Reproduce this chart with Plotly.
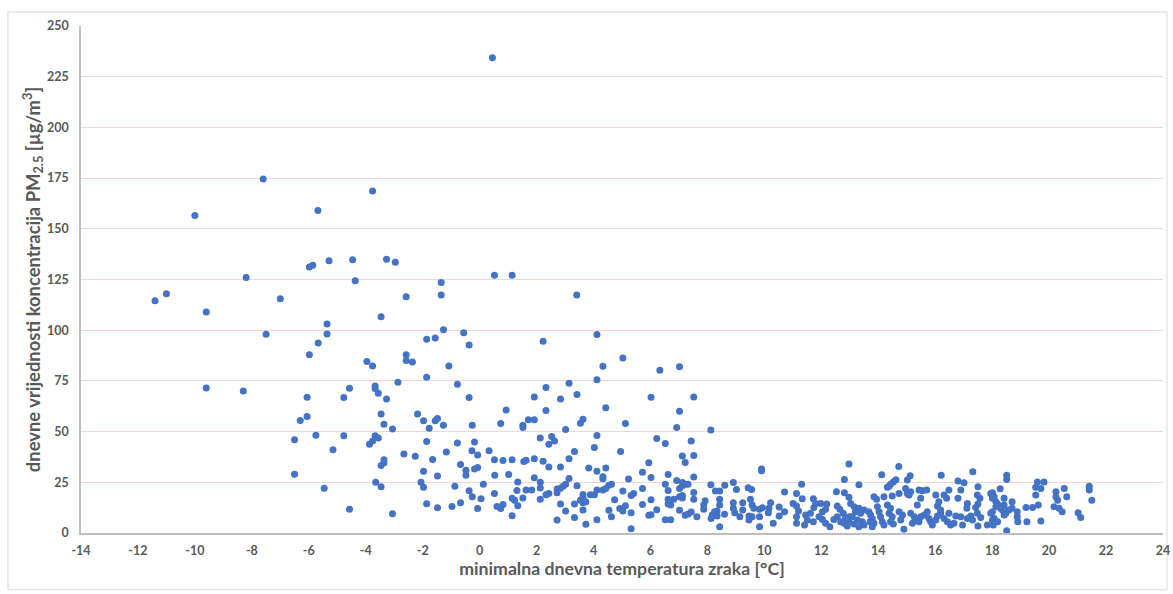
import plotly.graph_objects as go

# (minimum daily air temperature [°C], daily PM2.5 [µg/m3]), grouped by temperature band
grp_a = [(-11.4,114.5),(-11.0,118),(-10.0,156.5),(-9.6,109),(-9.6,71.5),(-8.2,126),(-8.3,70),(-7.6,174.5),(-7.5,98),(-7.0,115.5),
         (-6.5,46),(-6.5,29),(-6.3,55.5),(-6.06,57.4),(-6.06,66.9),(-5.75,48.2),(-5.46,22.1),(-5.68,159),(-5.98,131.2),(-5.86,132.0),
         (-5.29,134.2),(-5.36,103),(-5.36,98.1),(-5.67,93.7),(-5.98,87.9),(-5.15,41)]

grp_b = [(-3.76,168.6),(-4.46,134.7),(-3.27,135),(-2.96,133.5),(-4.37,124.4),(0.52,127.1),(1.14,127.1),(-1.35,123.5),(-1.35,117.3),
         (-2.58,116.5),(-3.46,106.6),(-1.27,100.2),(-0.56,98.8),(-1.86,95.5),(-1.56,96.1),(-0.37,92.7),(-3.96,84.6),(-3.76,82.3),
         (-2.58,87.9),(-2.58,85.0),(-2.36,84.3),(-1.08,82.3),(-1.86,76.8),(-2.87,74.3),(-0.78,73.3),(-3.67,72.5),(-3.67,71.2),
         (-3.56,68.9),(-4.57,71.4),(-4.77,66.8),(-3.27,66.1),(-0.37,66.8),(0.93,60.7),(0.74,54.0),(-3.46,58.7),(-2.18,58.7),
         (-1.97,55.3),(-1.56,55.3),(-1.48,56.4),(-3.36,53.6),(-3.06,51.3),(-1.77,51.7),(-1.27,53.1),(-0.26,53.1),(-4.77,47.9),
         (-3.67,47.9),(-3.56,46.8),(-3.76,45.4),(-3.87,43.8),(-1.86,45.1),(-0.78,44.4),(-0.18,44.9),(-2.66,38.9),(-2.26,37.9),
         (-1.17,39.9),(-0.27,40.5),(-0.07,38.5),(0.33,40.5),(-1.65,36.3),(-3.36,36.1),(-3.36,34.6),(-3.46,33.3),(-0.67,33.8),
         (-0.48,30.9),(-0.48,28.5),(-0.18,31.6),(-0.07,32.3),(0.52,36.1),(0.82,35.8),(1.14,36.1),(-1.97,30.4),(-1.48,28.1),
         (0.53,28.5),(1.02,28.9),(-3.65,25),(-3.46,22.8),(-2.06,25),(-1.97,22.6),(-0.87,23),(0.13,24),(1.34,25.1),(-0.37,20.8),
         (-0.26,17.9),(0.05,16.9),(0.52,19.5),(1.31,21.0),(-1.86,14.4),(-1.48,12.5),(-0.97,13.1),(-0.67,14.9),(-0.07,12.1),
         (0.61,13.1),(0.74,12.1),(0.82,14.1),(1.14,17.1),(1.23,16.2),(1.34,13.4),(1.14,8.5),(-4.57,11.7),(-3.06,9.5),(0.45,234.3)]

grp_c = [(3.41,117.3),(4.12,97.9),(2.23,94.6),(5.03,86.3),(4.33,82.2),(6.33,80.2),(7.02,82.0),(4.12,75.6),(3.14,73.8),(2.33,71.7),
         (3.42,68.3),(1.92,67.1),(6.02,66.9),(7.52,67.1),(2.84,66.1),(2.33,60.4),(4.43,61.7),(7.02,60.0),(1.52,53.1),(1.52,52.0),
         (1.71,55.9),(1.92,55.9),(3.54,54.1),(3.63,56.1),(3.02,51.0),(5.12,54.0),(6.92,52.0),(2.13,46.9),(2.53,47.6),(2.63,45.4),
         (2.43,43.8),(4.12,48.1),(4.03,42.2),(6.22,46.6),(6.52,44.1),(7.43,45.4),(1.55,35.3),(1.63,35.9),(1.92,36.6),(2.23,35.4),
         (2.43,32.6),(2.84,32.6),(3.14,36.6),(3.33,40.2),(4.95,40.2),(3.83,32.1),(4.12,30.4),(4.43,32.1),(4.33,27.7),(4.33,26.7),
         (5.94,34.6),(5.72,30.0),(6.02,27.4),(6.52,24.1),(6.62,28.9),(7.12,38.0),(7.22,34.8),(7.52,38.2),(7.52,27.6),(1.92,27.2),
         (2.13,25.0),(2.13,22.2),(1.63,21.2),(1.83,21.2),(2.43,19.5),(2.33,18.9),(2.13,16.7),(2.72,19.8),(2.72,21.7),(2.84,22.1),
         (2.93,23.1),(3.02,24.1),(3.14,26.9),(3.42,23.3),(3.33,14.3),(3.63,19.0),(3.63,17.6),(3.54,16.2),(3.63,14.9),(3.73,15.4),
         (3.89,18.9),(4.03,18.9),(4.12,21.2),(4.33,21.2),(4.43,22.0),(4.54,23.5),(4.63,24.1),(3.02,10.8),(2.84,14.3),(2.72,6.4),
         (3.33,7.7),(3.63,11.3),(3.73,4.3),(4.12,6.5),(4.54,11.2),(4.74,16.4),(4.63,8.0),(5.03,20.7),(5.23,26.6),(4.92,12.1),
         (5.03,10.8),(5.12,13.4),(5.32,18.5),(5.41,19.5),(5.32,10.0),(5.32,2.1),(5.72,22.0),(5.72,14.1),(6.02,16.4),(5.94,8.7),
         (6.02,9.0),(6.22,11.5),(6.62,21.0),(6.62,16.6),(6.62,14.3),(6.71,13.8),(6.82,16.6),(6.52,6.5),(6.71,6.5),(6.92,25.9),
         (7.02,22.0),(7.12,23.3),(7.12,24.9),(7.22,24.1),(7.02,17.9),(7.12,18.5),(7.12,17.2),(7.32,24.1),(7.52,20.0),(7.52,16.6),
         (7.02,11.2),(7.22,8.7),(7.32,9.4),(7.43,10.3),(7.63,8.0),(1.52,17.2)]

grp_d = [(8.12,50.8),(9.90,31.6),(9.90,30.7),(8.12,23.8),(8.61,23.5),(8.91,24.9),(9.02,21.5),(9.43,22.3),(9.55,21.5),(8.28,20.7),
         (8.43,20.7),(7.92,15.9),(7.87,13.8),(7.87,11.7),(8.43,16.7),(8.43,13.8),(8.34,10.8),(8.25,10.5),(8.34,8.4),(8.17,8.9),
         (8.13,7.2),(8.60,9.2),(8.43,3.1),(8.91,14.9),(8.91,12.2),(8.96,10.0),(9.24,14.9),(9.24,11.3),(9.14,8.0),(9.51,16.6),
         (9.57,13.8),(9.63,12.2),(9.46,8.4),(9.46,6.4),(9.57,8.0),(9.83,11.7),(9.93,12.5),(9.83,8.0),(9.83,3.1),(10.22,14.9),
         (10.16,12.2),(10.14,10.0),(10.31,4.8),(10.71,20.2),(10.52,12.8),(10.71,10.5),(10.52,8.4),(11.31,24.1),(11.13,19.5),
         (11.33,16.9),(11.01,14.6),(11.13,13.3),(11.20,10.8),(11.13,8.0),(11.13,4.8),(11.45,8.9),(11.51,6.4),(11.41,3.9),
         (11.72,16.9),(11.80,14.6),(11.74,12.6),(11.62,9.7),(11.72,5.6),(11.98,14.6),(12.19,14.3),(12.04,10.5),(12.15,11.7),
         (12.04,6.7),(12.15,4.8),(11.92,8.0),(12.53,20.3),(12.81,26.4),(12.97,34.0),(12.81,19.8),(12.97,17.6),(12.56,13.3),
         (12.65,11.7),(12.77,9.7),(12.56,8.0),(12.44,6.7),(12.30,3.1),(12.68,5.6),(12.80,4.8),(12.91,3.4),(12.97,5.6),(13.00,8.0),
         (12.85,7.7)]

grp_e = [(14.72,32.8),(14.12,28.7),(15.12,28.2),(15.02,26.1),(14.62,26.2),(14.53,25.2),(14.43,24.1),(14.32,22.5),(14.38,23.1),
         (13.32,23.8),(16.21,28.5),(17.32,30.2),(16.80,25.7),(17.01,24.8),(17.50,22.8),(18.28,21.8),(13.85,17.9),(13.94,16.6),
         (14.20,17.9),(14.49,18.2),(14.73,19.5),(14.96,22.0),(15.02,19.5),(15.08,18.7),(15.14,20.3),(15.43,21.2),(15.55,20.8),
         (15.70,21.2),(15.49,17.1),(15.37,13.8),(16.02,18.7),(16.13,15.4),(16.08,13.3),(16.19,11.3),(16.31,18.7),(16.40,17.1),
         (16.48,21.2),(16.80,17.1),(16.90,21.2),(17.13,14.6),(17.11,12.2),(17.48,18.7),(17.57,17.1),(17.50,14.3),(17.42,12.6),
         (18.01,19.8),(18.07,17.9),(18.13,15.4),(18.19,14.3),(13.03,14.6),(13.15,13.0),(13.32,12.2),(13.20,10.5),(13.38,9.7),
         (13.50,11.3),(13.09,8.0),(13.27,6.4),(13.15,4.4),(13.44,5.6),(13.50,3.9),(13.32,3.1),(13.67,10.5),(13.73,8.9),(13.79,7.2),
         (13.71,5.6),(13.85,4.8),(13.79,3.1),(13.97,13.0),(14.03,10.5),(14.08,8.0),(14.14,5.6),(14.20,3.9),(14.32,13.8),(14.43,12.2),
         (14.38,9.7),(14.49,8.0),(14.43,5.6),(14.53,4.4),(14.73,10.5),(14.85,8.9),(14.79,6.4),(14.90,1.8),(15.14,9.7),(15.26,8.0),
         (15.32,6.4),(15.20,4.8),(15.43,5.6),(15.49,8.0),(15.61,8.9),(15.72,10.5),(15.78,7.2),(15.84,5.6),(15.90,3.9),(16.02,6.4),
         (16.08,8.4),(16.19,9.7),(16.31,7.2),(16.43,5.6),(16.54,3.9),(16.66,4.8),(16.48,9.7),(16.72,8.4),(16.90,8.0),(16.96,3.9),
         (17.13,7.2),(17.25,8.4),(17.31,6.4),(17.48,9.7),(17.50,3.4),(17.60,7.7),(17.83,3.9),(18.01,10.5),(18.07,7.2),(18.19,5.6)]

grp_f = [(18.51,28.5),(18.51,26.4),(17.95,19.5),(18.01,17.1),(18.13,13.0),(18.30,12.2),(18.42,17.1),(18.42,13.8),(18.36,11.3),
         (17.95,9.7),(18.01,6.4),(18.04,3.9),(18.51,1.1),(18.59,11.3),(18.70,12.2),(18.48,9.7),(18.42,8.9),(18.70,15.4),(18.88,10.5),
         (18.88,8.0),(18.90,5.6),(19.19,12.6),(19.42,12.6),(19.22,5.6),(19.71,5.9),(19.53,18.7),(19.62,13.8),(19.53,22.5),
         (19.59,25.2),(19.71,22.0),(19.82,25.2),(20.24,20.3),(20.24,17.9),(20.30,16.2),(20.17,13.0),(20.35,12.2),(20.46,10.5),
         (20.53,22.0),(20.62,17.9),(21.02,10.0),(21.11,7.7),(21.41,23.1),(21.41,21.2),(21.50,16.2)]

groups = [grp_a, grp_b, grp_c, grp_d, grp_e, grp_f]
temp = [p[0] for g in groups for p in g]
pm25 = [p[1] for g in groups for p in g]

x_ticks = list(range(-14, 25, 2))
y_ticks = list(range(0, 251, 25))

FONT = "Lato"
GREY = "#595959"

fig = go.Figure()
fig.add_trace(go.Scatter(
    x=temp, y=pm25, mode="markers",
    marker=dict(size=7, color="#4472C4", line=dict(width=0)),
    showlegend=False, hoverinfo="x+y",
))

fig.update_layout(
    width=1173, height=594,
    margin=dict(l=81, r=10, t=26, b=61),
    paper_bgcolor="white", plot_bgcolor="white",
    font=dict(family=FONT, color=GREY),
    xaxis=dict(
        range=[-14, 24], tickmode="array", tickvals=x_ticks,
        ticktext=[str(v) for v in x_ticks], automargin=False,
        showgrid=False, zeroline=False,
        showline=True, linecolor="#bfbfbf", linewidth=1.5,
        ticks="", ticklabelstandoff=5,
        tickfont=dict(family=FONT, size=12.5, color=GREY, weight="bold"),
        title=dict(text="minimalna dnevna temperatura zraka [°C]",
                   font=dict(family=FONT, size=17.7, color=GREY, weight="bold"), standoff=4),
    ),
    yaxis=dict(
        range=[0, 250], tickmode="array", tickvals=y_ticks,
        ticktext=[str(v) for v in y_ticks], automargin=False,
        showgrid=True, gridcolor="#f7d3d3", gridwidth=1, zeroline=False,
        showline=True, linecolor="#bfbfbf", linewidth=1.5,
        ticks="", ticklabelstandoff=8,
        tickfont=dict(family=FONT, size=12.5, color=GREY, weight="bold"),
        title=dict(text="dnevne vrijednosti koncentracija PM<sub>2.5</sub> [µg/m<sup>3</sup>]",
                   font=dict(family=FONT, size=18.4, color=GREY, weight="bold"), standoff=2),
    ),
    shapes=[dict(type="rect", xref="paper", yref="paper",
                 x0=-0.0675, x1=1.0037, y0=-0.112, y1=1.0276,
                 line=dict(color="#d9d9d9", width=1), fillcolor="rgba(0,0,0,0)", layer="below")],
)

fig.write_html("out.html", config={"displayModeBar": False},
               post_script="document.body.style.margin='0px';")
